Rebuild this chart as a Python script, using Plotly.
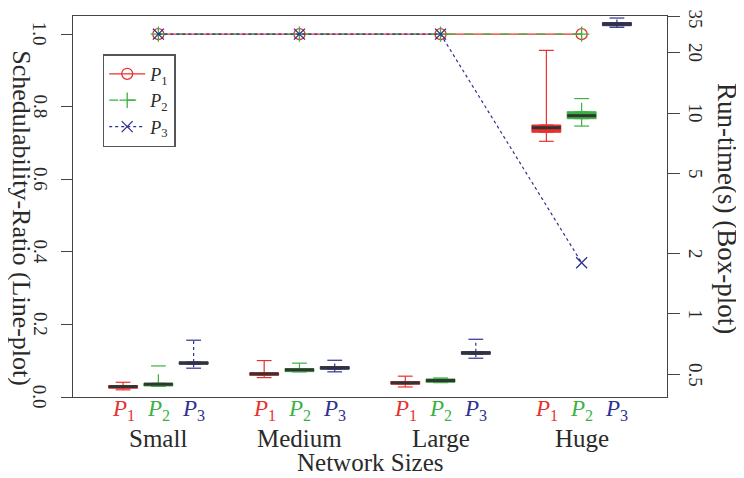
import numpy as np
import plotly.graph_objects as go

# ---------------- data ----------------
groups = ["Small", "Medium", "Large", "Huge"]
series = ["P1", "P2", "P3"]
series_labels = ["<i>P</i><sub>1</sub>", "<i>P</i><sub>2</sub>", "<i>P</i><sub>3</sub>"]
colors = ["#E8312F", "#3BB143", "#2E3192"]

# Schedulability ratio (line plot, left axis)
ratio_P1 = [1.0, 1.0, 1.0, 1.0]
ratio_P2 = [1.0, 1.0, 1.0, 1.0]
ratio_P3 = [1.0, 1.0, 1.0, 0.37]

# Run-time box statistics (seconds, right log axis), per group
lower_P1 = [0.419, 0.482, 0.433, 7.23]
q1_P1 = [0.427, 0.495, 0.447, 8.02]
med_P1 = [0.435, 0.503, 0.454, 8.45]
q3_P1 = [0.440, 0.510, 0.461, 8.72]
upper_P1 = [0.457, 0.586, 0.490, 20.5]

lower_P2 = [0.436, 0.515, 0.455, 8.61]
q1_P2 = [0.438, 0.516, 0.457, 9.37]
med_P2 = [0.447, 0.527, 0.466, 9.70]
q3_P2 = [0.452, 0.535, 0.475, 10.15]
upper_P2 = [0.551, 0.569, 0.480, 11.8]

lower_P3 = [0.537, 0.515, 0.602, 26.7]
q1_P3 = [0.562, 0.531, 0.630, 27.2]
med_P3 = [0.570, 0.539, 0.640, 27.7]
q3_P3 = [0.577, 0.547, 0.649, 28.2]
upper_P3 = [0.740, 0.588, 0.748, 29.7]

left_ticks = [0.0, 0.2, 0.4, 0.6, 0.8, 1.0]
left_tick_labels = ["0.0", "0.2", "0.4", "0.6", "0.8", "1.0"]
right_ticks = [0.5, 1, 2, 5, 10, 20, 30.4]
right_tick_labels = ["0.5", "1", "2", "5", "10", "20", "35"]
right_axis_max = 30.4
right_axis_min = 0.386

ratios = [ratio_P1, ratio_P2, ratio_P3]
box_stats = [
    (lower_P1, q1_P1, med_P1, q3_P1, upper_P1),
    (lower_P2, q1_P2, med_P2, q3_P2, upper_P2),
    (lower_P3, q1_P3, med_P3, q3_P3, upper_P3),
]

# ---------------- layout helpers ----------------
FONT = "Liberation Serif"
TXT = "#2a2a2a"
AX = "#444444"
box_w = 0.82
cap_w = 0.42

def pos(gi, si):
    return gi * 4 + si + 1

fig = go.Figure()

whisker_dash = ["solid", "dash", "dot"]

# boxes (right axis)
for si in range(3):
    lo, q1, md, q3, up = box_stats[si]
    xs = [pos(gi, si) for gi in range(4)]
    fig.add_trace(go.Box(
        x=xs, q1=q1, median=md, q3=q3, lowerfence=q1, upperfence=q3,
        width=box_w, fillcolor=colors[si],
        line=dict(color=colors[si], width=1),
        yaxis="y2", showlegend=False, hoverinfo="skip", boxpoints=False,
    ))
    wx, wy = [], []
    cx, cy = [], []
    mx, my = [], []
    for gi in range(4):
        p = pos(gi, si)
        wx += [p, p, None, p, p, None]
        wy += [q3[gi], up[gi], None, q1[gi], lo[gi], None]
        cx += [p - cap_w / 2, p + cap_w / 2, None, p - cap_w / 2, p + cap_w / 2, None]
        cy += [up[gi], up[gi], None, lo[gi], lo[gi], None]
        mx += [p - box_w / 2, p + box_w / 2, None]
        my += [md[gi], md[gi], None]
    fig.add_trace(go.Scatter(x=wx, y=wy, mode="lines", yaxis="y2",
                             line=dict(color=colors[si], width=1.2, dash=whisker_dash[si]),
                             showlegend=False, hoverinfo="skip"))
    fig.add_trace(go.Scatter(x=cx, y=cy, mode="lines", yaxis="y2",
                             line=dict(color=colors[si], width=1.2),
                             showlegend=False, hoverinfo="skip"))
    fig.add_trace(go.Scatter(x=mx, y=my, mode="lines", yaxis="y2",
                             line=dict(color="#333333", width=3),
                             showlegend=False, hoverinfo="skip"))

# line plot (left axis)
markers = ["circle-open", "cross-thin-open", "x-thin-open"]
line_dash = ["solid", "dash", "dot"]
for si in range(3):
    xs = [pos(gi, 1) for gi in range(4)]
    fig.add_trace(go.Scatter(
        x=xs, y=ratios[si], mode="lines+markers", name=series_labels[si],
        line=dict(color=colors[si], width=1.2, dash=line_dash[si]),
        marker=dict(symbol=markers[si], size=11, color=colors[si],
                    line=dict(color=colors[si], width=1.3)),
        yaxis="y",
    ))

annotations = []
for gi in range(4):
    for si in range(3):
        annotations.append(dict(
            x=pos(gi, si), y=-0.034, xref="x", yref="paper",
            text=series_labels[si],
            showarrow=False, font=dict(family=FONT, size=23, color=colors[si]),
            xanchor="center", yanchor="middle"))
    annotations.append(dict(
        x=pos(gi, 1), y=-0.108, xref="x", yref="paper", text=groups[gi],
        showarrow=False, font=dict(family=FONT, size=25, color=TXT),
        xanchor="center", yanchor="middle"))
annotations.append(dict(
    x=0.5, y=-0.173, xref="paper", yref="paper", text="Network Sizes",
    showarrow=False, font=dict(family=FONT, size=25, color=TXT),
    xanchor="center", yanchor="middle"))
annotations.append(dict(
    x=-0.088, y=0.47, xref="paper", yref="paper", text="Schedulability-Ratio (Line-plot)",
    textangle=90, showarrow=False, font=dict(family=FONT, size=26, color=TXT),
    xanchor="center", yanchor="middle"))
annotations.append(dict(
    x=1.10, y=0.495, xref="paper", yref="paper", text="Run-time(s) (Box-plot)",
    textangle=90, showarrow=False, font=dict(family=FONT, size=27, color=TXT),
    xanchor="center", yanchor="middle"))
# rotated tick labels
for v, t in zip(left_ticks, left_tick_labels):
    annotations.append(dict(
        x=-0.055, y=v, xref="paper", yref="y", text=t, textangle=90,
        showarrow=False, font=dict(family=FONT, size=19, color=TXT),
        xanchor="center", yanchor="middle"))
for v, t in zip(right_ticks, right_tick_labels):
    annotations.append(dict(
        x=1.048, y=np.log10(v), xref="paper", yref="y2", text=t, textangle=90,
        showarrow=False, font=dict(family=FONT, size=19, color=TXT),
        xanchor="center", yanchor="middle",
        yshift=-3 if v == right_axis_max else 0))

fig.update_layout(
    width=736, height=470,
    margin=dict(l=65, r=77, t=8, b=81, autoexpand=False),
    paper_bgcolor="white", plot_bgcolor="white",
    font=dict(family=FONT, color=TXT),
    annotations=annotations,
    xaxis=dict(range=[-0.42, 16.42], showgrid=False, zeroline=False,
               showticklabels=False, ticks="", showline=True, linecolor=AX,
               linewidth=1, mirror=True, automargin=False),
    yaxis=dict(range=[0, 1.05], tickvals=left_ticks, showticklabels=False,
               ticks="outside", ticklen=11, tickcolor=AX, showline=True,
               linecolor=AX, linewidth=1, showgrid=False, zeroline=False,
               automargin=False),
    yaxis2=dict(type="log", overlaying="y", side="right",
                range=[np.log10(right_axis_min), np.log10(right_axis_max)],
                tickvals=right_ticks, showticklabels=False,
                ticks="outside", ticklen=12, tickcolor=AX, showline=True,
                linecolor=AX, linewidth=1, showgrid=False, zeroline=False,
                automargin=False),
    legend=dict(x=0.05, y=0.9, xanchor="left", yanchor="top",
                bordercolor="#555555", borderwidth=1.5, bgcolor="white",
                font=dict(family=FONT, size=18, color=TXT), tracegroupgap=0,
                itemwidth=36),
    showlegend=True,
)

fig.write_html("out.html")
